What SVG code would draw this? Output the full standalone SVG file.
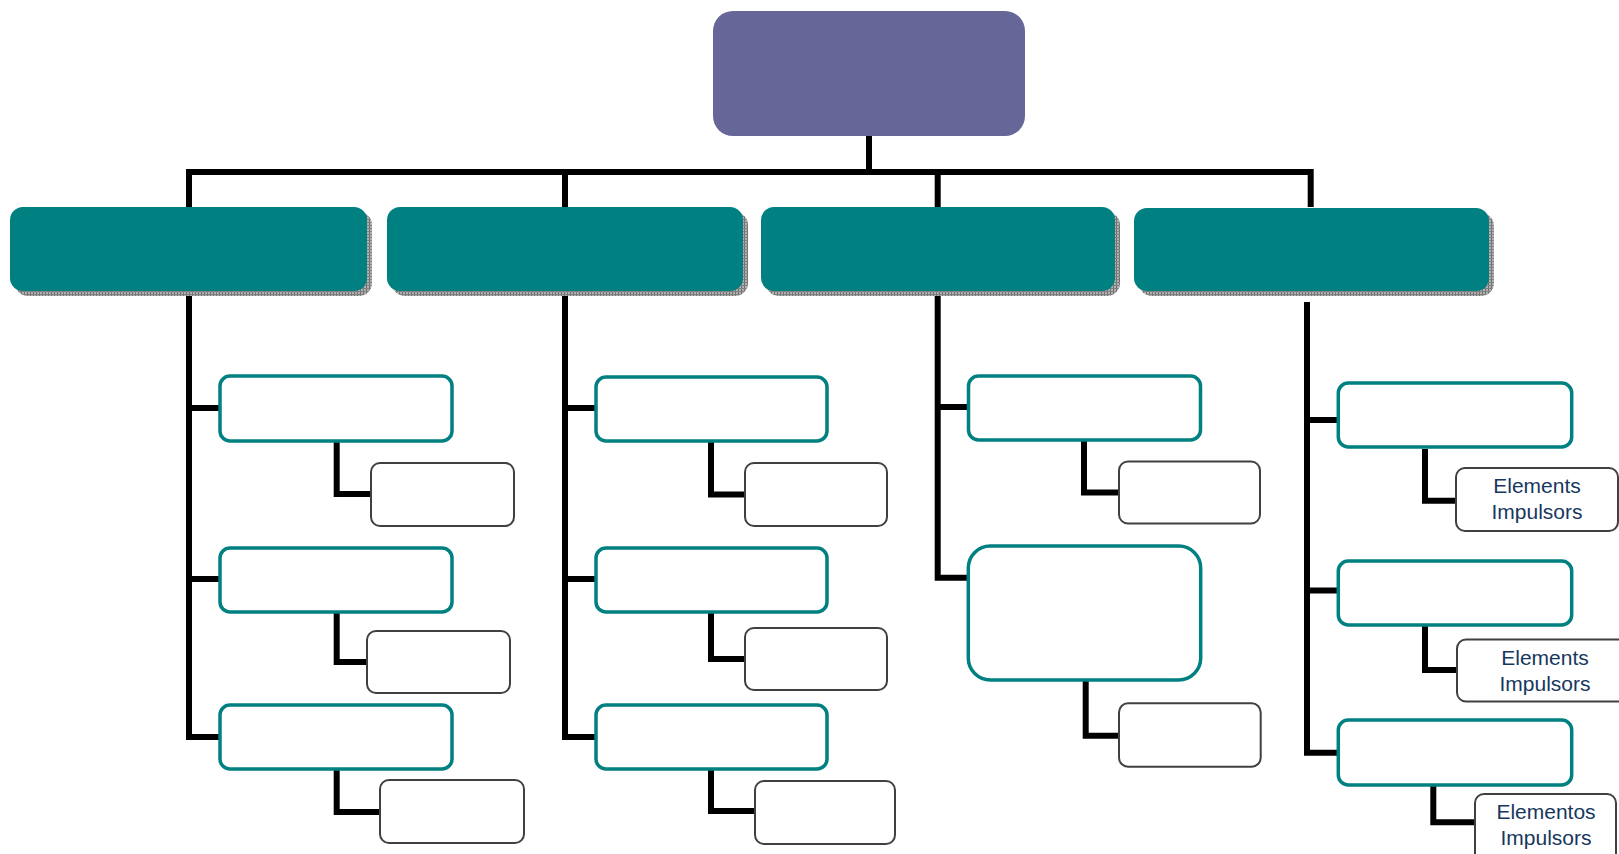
<svg xmlns="http://www.w3.org/2000/svg" width="1619" height="854" viewBox="0 0 1619 854">
<defs>
<pattern id="hatch" width="3" height="3" patternUnits="userSpaceOnUse">
<rect width="3" height="3" fill="#b0b0b0"/>
<rect width="1" height="3" fill="#707070"/>
<rect width="3" height="1" fill="#808080"/>
</pattern>
</defs>
<style>
.top{fill:#666699;}
.l1{fill:#008080;}
.sh{fill:url(#hatch);}
.l2{fill:#ffffff;stroke:#008080;stroke-width:3.5;}
.sub{fill:#ffffff;stroke:#404040;stroke-width:2;}
.con{fill:none;stroke:#000000;stroke-width:6;stroke-linejoin:miter;stroke-linecap:butt;}
.lbl{font-family:"Liberation Sans",Arial,sans-serif;font-size:21px;fill:#17375E;text-anchor:middle;}
</style>
<g id="connectors">
<path class="con" d="M869 136 V172 M186 172 H1313 M189 169 V207 M565 169 V207 M937.7 169 V207 M1310.7 169 V207"/>
<path class="con" d="M189 290 V737 H220 M189 408 H220 M189 579 H220"/>
<path class="con" d="M336.7 441 V494 H371 M336.7 612 V662 H367 M336.7 769 V812 H380"/>
<path class="con" d="M565 290 V737 H596 M565 408 H596 M565 579 H596"/>
<path class="con" d="M711 441 V494.6 H745 M711 612 V659 H745 M711 769 V811 H755"/>
<path class="con" d="M937.7 290 V577.7 H968 M937.7 407 H968"/>
<path class="con" d="M1084 440 V492.5 H1119 M1085.7 680 V735.7 H1119"/>
<path class="con" d="M1307 302 V752.7 H1338 M1307 420 H1338 M1307 590.6 H1338"/>
<path class="con" d="M1425 449 V500.7 H1456 M1425 625 V670 H1457 M1433.3 783 V822.3 H1475"/>
</g>
<g id="root"><rect class="top" x="713" y="11" width="312" height="125" rx="20"/></g>
<g id="l1-1"><rect class="sh" x="15" y="212" width="357" height="84" rx="13"/><rect class="l1" x="10" y="207" width="357" height="84" rx="13"/></g>
<g id="l1-2"><rect class="sh" x="392" y="212" width="356" height="84" rx="13"/><rect class="l1" x="387" y="207" width="356" height="84" rx="13"/></g>
<g id="l1-3"><rect class="sh" x="766" y="212" width="354" height="84" rx="13"/><rect class="l1" x="761" y="207" width="354" height="84" rx="13"/></g>
<g id="l1-4"><rect class="sh" x="1139" y="213" width="355" height="83" rx="13"/><rect class="l1" x="1134" y="208" width="355" height="83" rx="13"/></g>
<g id="c1a"><rect class="l2" x="220" y="376" width="232" height="65" rx="10"/></g>
<g id="c1a-s"><rect class="sub" x="371" y="463" width="143" height="63" rx="9"/></g>
<g id="c1b"><rect class="l2" x="220" y="548" width="232" height="64" rx="10"/></g>
<g id="c1b-s"><rect class="sub" x="367" y="631" width="143" height="62" rx="9"/></g>
<g id="c1c"><rect class="l2" x="220" y="705" width="232" height="64" rx="10"/></g>
<g id="c1c-s"><rect class="sub" x="380" y="780" width="144" height="63" rx="9"/></g>
<g id="c2a"><rect class="l2" x="596" y="377" width="231" height="64" rx="10"/></g>
<g id="c2a-s"><rect class="sub" x="745" y="463" width="142" height="63" rx="9"/></g>
<g id="c2b"><rect class="l2" x="596" y="548" width="231" height="64" rx="10"/></g>
<g id="c2b-s"><rect class="sub" x="745" y="628" width="142" height="62" rx="9"/></g>
<g id="c2c"><rect class="l2" x="596" y="705" width="231" height="64" rx="10"/></g>
<g id="c2c-s"><rect class="sub" x="755" y="781" width="140" height="63" rx="9"/></g>
<g id="c3a"><rect class="l2" x="968.5" y="376" width="232" height="64" rx="10"/></g>
<g id="c3a-s"><rect class="sub" x="1119" y="461.5" width="141" height="62" rx="9"/></g>
<g id="c3b"><rect class="l2" x="968.3" y="546" width="232.4" height="134" rx="22"/></g>
<g id="c3b-s"><rect class="sub" x="1119" y="703.3" width="141.7" height="63.4" rx="9"/></g>
<g id="c4a"><rect class="l2" x="1338.3" y="383" width="233.4" height="64" rx="10"/></g>
<g id="c4a-s"><rect class="sub" x="1456" y="468" width="162" height="63" rx="9"/><text class="lbl" x="1537" y="493">Elements</text><text class="lbl" x="1537" y="519">Impulsors</text></g>
<g id="c4b"><rect class="l2" x="1338.3" y="561" width="233.4" height="64" rx="10"/></g>
<g id="c4b-s"><rect class="sub" x="1457" y="639.5" width="176" height="62" rx="9"/><text class="lbl" x="1545" y="665">Elements</text><text class="lbl" x="1545" y="691">Impulsors</text></g>
<g id="c4c"><rect class="l2" x="1338.3" y="720" width="233.4" height="65" rx="10"/></g>
<g id="c4c-s"><rect class="sub" x="1475" y="794" width="141" height="70" rx="9"/><text class="lbl" x="1546" y="819">Elementos</text><text class="lbl" x="1546" y="845">Impulsors</text></g>
</svg>
